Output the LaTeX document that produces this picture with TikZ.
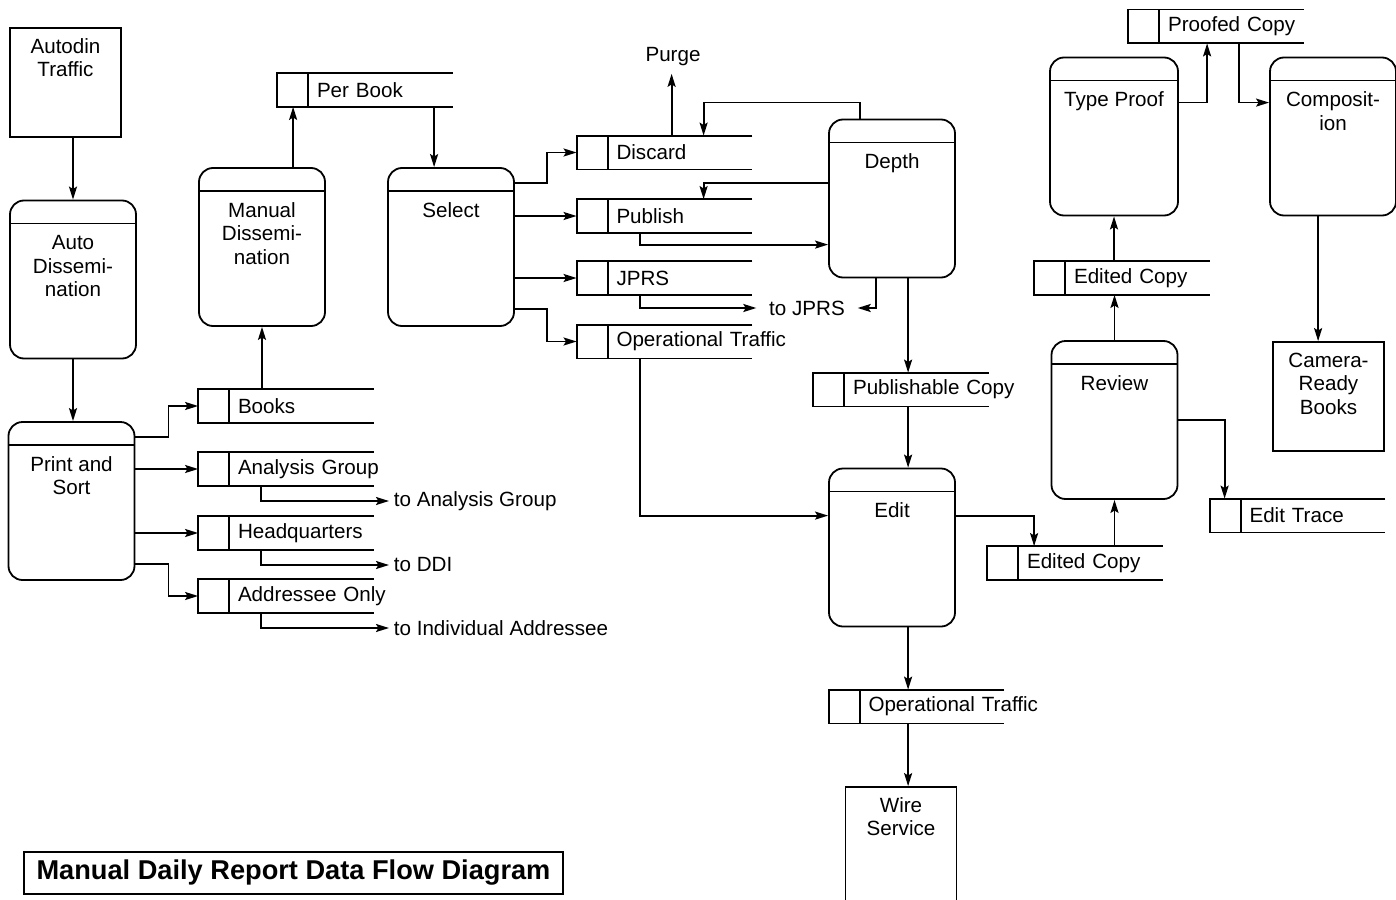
\documentclass[tikz,border=0pt]{standalone}
\usepackage{fontspec}
\setmainfont{Liberation Sans}
\usetikzlibrary{calc,arrows.meta}

\begin{document}
\begin{tikzpicture}[x=0.5pt, y=-0.5pt, line width=0.9pt,
  font=\fontsize{10.3}{11.75}\selectfont,
  flow/.style={-{Stealth[length=6.5pt,width=4pt,inset=1.2pt]}},
  proc/.style={draw, rounded corners=7pt, minimum width=63pt, inner sep=0pt, align=center,
    text height=24.5pt, text depth=54.5pt,
    path picture={\draw ([yshift=-11.5pt]path picture bounding box.north west) -- ([yshift=-11.5pt]path picture bounding box.north east);}},
  proc2/.style={proc, text height=36.25pt, text depth=42.75pt},
  proc3/.style={proc, text height=48pt, text depth=31pt},
  ent2/.style={draw, minimum width=55.5pt, inner sep=0pt, align=center, text height=24.25pt, text depth=30.25pt},
  ent3/.style={ent2, text height=36pt, text depth=18.5pt},
  store/.style={minimum height=16pt, inner sep=0pt, text width=87pt, align=left,
    execute at begin node={\hspace*{19.5pt}\hbox\bgroup}, execute at end node={\egroup},
    append after command={\pgfextra{\draw (\tikzlastnode.north east) -- (\tikzlastnode.north west) -- (\tikzlastnode.south west) -- (\tikzlastnode.south east) ([xshift=15.5pt]\tikzlastnode.north west) -- ([xshift=15.5pt]\tikzlastnode.south west);}}},
  outlbl/.style={anchor=west, inner sep=2pt}
]
\useasboundingbox (0,0) rectangle (1396,899);

\node[ent2] (autodin) at (65.5,82.5) {Autodin\\Traffic};
\node[proc3] (autodis) at (73,279.5) {Auto\\Dissemi-\\nation};
\node[proc2] (prsort) at (71.5,501) {Print and\\Sort};
\node[proc3] (mandis) at (262,247) {Manual\\Dissemi-\\nation};
\node[proc] (select) at (451,247) {Select};
\node[proc] (depth) at (892,198.5) {Depth};
\node[proc] (edit) at (892,547.5) {Edit};
\node[proc] (review) at (1114.5,420) {Review};
\node[proc, minimum width=64pt] (typeproof) at (1114,136.5) {Type Proof};
\node[proc2] (compos) at (1333,136.5) {Composit-\\ion};
\node[ent3] (camera) at (1328.5,396.5) {Camera-\\Ready\\Books};
\node[ent2, text depth=38.25pt] (wire) at (901,849.5) {Wire\\Service};

\node[store] (perbook) at (365,90) {Per Book};
\node[store] (books) at (286,406) {Books};
\node[store] (anagroup) at (286,469) {Analysis Group};
\node[store] (hq) at (286,533) {Headquarters};
\node[store] (addronly) at (286,596) {Addressee Only};
\node[store] (discard) at (664.5,152.5) {Discard};
\node[store] (publish) at (664.5,216) {Publish};
\node[store] (jprs) at (664.5,278) {JPRS};
\node[store] (optraffic) at (664.5,341.5) {Operational Traffic};
\node[store] (pubcopy) at (901,389.5) {Publishable Copy};
\node[store] (edcopyA) at (1122,278) {Edited Copy};
\node[store] (edcopyB) at (1075,563) {Edited Copy};
\node[store] (edittrace) at (1297.5,515.5) {Edit Trace};
\node[store] (proofed) at (1216,26.5) {Proofed Copy};
\node[store] (optraffic2) at (916.5,706.5) {Operational Traffic};

\node (purge) at (673,57) {Purge};
\node[outlbl] (toana) at (389,501) {to Analysis Group};
\node[outlbl] (toddi) at (389,565) {to DDI};
\node[outlbl] (toind) at (389,628) {to Individual Addressee};
\node[inner xsep=6pt] (tojprs) at (807,308) {to JPRS};
\node[draw, minimum width=269.5pt, minimum height=21pt, font=\fontsize{13.6}{16}\selectfont\bfseries] (title) at (293.5,873) {Manual Daily Report Data Flow Diagram};

\coordinate (pbin) at ($(perbook.south west)+(16,0)$);
\coordinate (pbout) at ($(perbook.south west)+(157,0)$);
\coordinate (dcpurge) at ($(discard.north west)+(95,0)$);
\coordinate (dcin) at ($(discard.north west)+(127,0)$);
\coordinate (dpout) at ($(depth.south west)+(80,0)$);
\coordinate (cpout) at ($(compos.south west)+(49,0)$);

\draw[flow] (autodis.north |- autodin.south) -- (autodis.north);
\draw[flow] (autodis.south) -- (autodis.south |- prsort.north);
\draw[flow] ($(prsort.north east)+(0,16)$) -- ++(33,0) |- (books.west);
\draw[flow] (prsort.east |- anagroup.west) -- (anagroup.west);
\draw[flow] (prsort.east |- hq.west) -- (hq.west);
\draw[flow] ($(prsort.north east)+(0,143)$) -- ++(33,0) |- (addronly.west);
\draw[flow] ($(anagroup.south west)+(63,0)$) |- (toana.west);
\draw[flow] ($(hq.south west)+(63,0)$) |- (toddi.west);
\draw[flow] ($(addronly.south west)+(63,0)$) |- (toind.west);
\draw[flow] (mandis.south |- books.north) -- (mandis.south);
\draw[flow] (pbin |- mandis.north) -- (pbin);
\draw[flow] (pbout) -- (pbout |- select.north);
\draw[flow] ($(select.north east)+(0,16)$) -- ++(32,0) |- (discard.west);
\draw[flow] (select.east |- publish.west) -- (publish.west);
\draw[flow] (select.east |- jprs.west) -- (jprs.west);
\draw[flow] ($(select.north east)+(0,142)$) -- ++(32,0) |- (optraffic.west);
\draw[flow] (dcpurge) -- (dcpurge |- purge.south);
\draw[flow] ($(depth.north west)+(32,0)$) -- ++(0,-16) -| (dcin);
\draw[flow] ($(depth.north west)+(0,64)$) -| ($(publish.north west)+(127,0)$);
\draw[flow] ($(publish.south west)+(63,0)$) |- ($(depth.north west)+(0,126)$);
\draw[flow] ($(jprs.south west)+(63,0)$) |- (tojprs.west);
\draw[flow] ($(depth.south west)+(48,0)$) |- (tojprs.east);
\draw[flow] (dpout) -- (dpout |- pubcopy.north);
\draw[flow] (dpout |- pubcopy.south) -- (dpout |- edit.north);
\draw[flow] ($(optraffic.south west)+(63,0)$) |- ($(edit.north west)+(0,48)$);
\draw[flow] ($(edit.north east)+(0,48)$) -| ($(edcopyB.north west)+(47,0)$);
\draw[flow] (review.south |- edcopyB.north) -- (review.south);
\draw[flow] (review.north) -- (review.north |- edcopyA.south);
\draw[flow] (typeproof.south |- edcopyA.north) -- (typeproof.south);
\draw[flow] ($(typeproof.north east)+(0,46)$) -| ($(proofed.south west)+(79,0)$);
\draw[flow] ($(proofed.south west)+(111,0)$) |- ($(compos.north west)+(0,46)$);
\draw[flow] (cpout) -- (cpout |- camera.north);
\draw[flow] ($(review.north east)+(0,80)$) -| ($(edittrace.north west)+(15,0)$);
\draw[flow] (dpout |- edit.south) -- (dpout |- optraffic2.north);
\draw[flow] (dpout |- optraffic2.south) -- (dpout |- wire.north);
\end{tikzpicture}
\end{document}
